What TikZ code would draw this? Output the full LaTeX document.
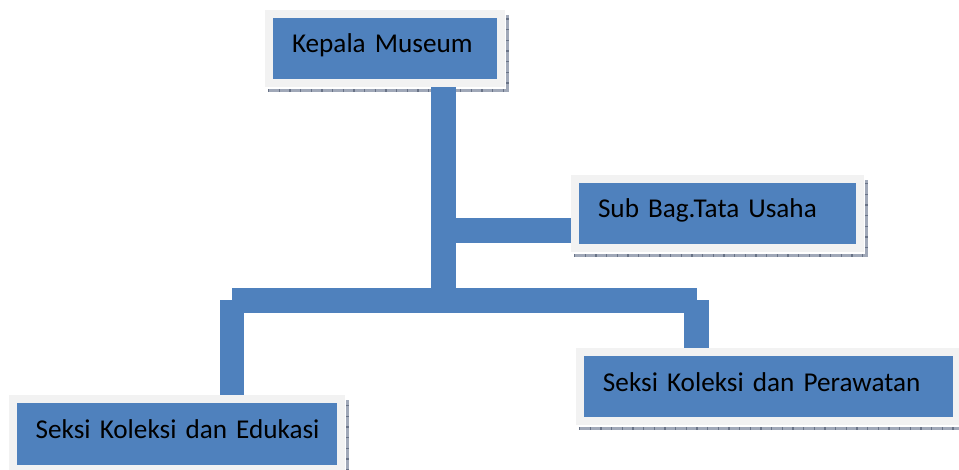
\documentclass[tikz,border=0pt]{standalone}
\usepackage{fontspec}
\setmainfont{Carlito}
\definecolor{boxblue}{RGB}{79,129,189}
\definecolor{boxframe}{RGB}{242,242,242}
\definecolor{shadowgray}{RGB}{160,168,184}
\definecolor{shadowdark}{RGB}{105,115,135}

\begin{document}
\begin{tikzpicture}[x=0.75pt,y=-0.75pt,
   jabatan/.style={draw=boxframe,fill=boxblue,line width=6pt,outer sep=3pt,
     inner xsep=17.25pt,inner ysep=0pt,align=left,text height=12pt,text depth=5.25pt,
     minimum height=52pt,font=\fontsize{20.4pt}{24pt}\selectfont},
   link/.style={draw=boxblue,line width=18.4pt},
   dropline/.style={draw=shadowgray,line width=2.25pt,
     postaction={draw=shadowdark,dash pattern=on 1pt off 7pt}}]
  \useasboundingbox (0,0) rectangle (959,470);
  \node[jabatan,text width=139.5pt] (kepala) at (385,48.4) {Kepala Museum};
  \node[jabatan,text width=179.25pt] (subbag) at (717.5,213.4) {Sub Bag.Tata Usaha};
  \node[jabatan,text width=212pt,minimum height=52.7pt] (edukasi) at (177,433.9) {\mbox{Seksi Koleksi dan Edukasi}};
  \node[jabatan,text width=248pt] (perawatan) at (768.3,386.5) {Seksi Koleksi dan Perawatan};
  % shadow lines under the boxes
  \foreach \n in {kepala,subbag,edukasi,perawatan}
    \draw[dropline] ([shift={(3,3)}]\n.south west) -- ([shift={(2,3)}]\n.south east)
      -- ([shift={(2,5)}]\n.north east);
  % connectors
  \coordinate (hub) at (443.5,300.4);
  \coordinate (tap) at (443.5,230.5);
  \coordinate (lcorner) at (232,300.4);
  \coordinate (rcorner) at (696.5,300.4);
  \draw[link] (kepala.south -| hub) -- (hub);
  \draw[link] (tap) -- (tap -| subbag.west);
  \draw[link] (lcorner) -- (rcorner);
  \draw[link] (lcorner) -- (lcorner |- edukasi.north);
  \draw[link] (rcorner) -- (rcorner |- perawatan.north);
\end{tikzpicture}
\end{document}
